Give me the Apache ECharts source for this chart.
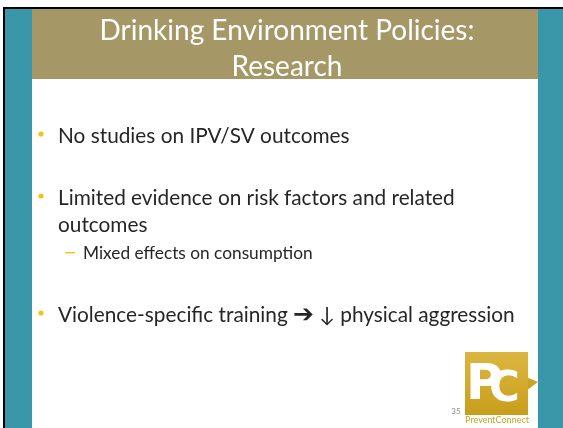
<!DOCTYPE html>
<html>
<head>
<meta charset="utf-8">
<script src="https://cdn.jsdelivr.net/npm/echarts@6/dist/echarts.min.js"></script>
<style>
  html, body { margin: 0; padding: 0; background: #fff; }
  #main { width: 563px; height: 428px; }
</style>
</head>
<body>
<div id="main"></div>
<script>
var titleLines = ['Drinking Environment Policies:', 'Research'];
var titleY = [31, 67];
var bulletLines = [
  { level: 1, text: 'No studies on IPV/SV outcomes', y: 136 },
  { level: 1, text: 'Limited evidence on risk factors and related', y: 198 },
  { level: 0, text: 'outcomes', y: 225 },
  { level: 2, text: 'Mixed effects on consumption', y: 253 },
  { level: 1, text: 'Violence-specific training {arw|\u2794} \u2193 physical aggression', y: 315 }
];
var slideNumber = '35';
var logoName = 'PreventConnect';

var chart = echarts.init(document.getElementById('main'));

var teal = '#3A97AA';
var header = '#A59766';
var accent = '#F2C314';
var bodyFont = 'Lato, "Open Sans", sans-serif';

var elements = [
  // frame
  { type: 'rect', shape: { x: 3, y: 7, width: 560, height: 421 }, style: { fill: '#000' } },
  { type: 'rect', shape: { x: 5, y: 9, width: 558, height: 419 }, style: { fill: '#fff' } },
  { type: 'rect', shape: { x: 5, y: 9, width: 27, height: 419 }, style: { fill: teal } },
  { type: 'rect', shape: { x: 538, y: 9, width: 25, height: 419 }, style: { fill: teal } },
  { type: 'rect', shape: { x: 32, y: 9, width: 506, height: 70 }, style: { fill: header } }
];

titleLines.forEach(function (t, i) {
  elements.push({
    type: 'text', x: 287, y: titleY[i],
    style: { text: t, fill: '#fff', font: '28px ' + bodyFont, align: 'center', verticalAlign: 'middle' }
  });
});

bulletLines.forEach(function (b) {
  if (b.level === 1) {
    elements.push({ type: 'circle', shape: { cx: 41, cy: b.y - 2, r: 2.6 }, style: { fill: accent } });
  }
  if (b.level === 2) {
    elements.push({ type: 'rect', shape: { x: 65, y: b.y - 1, width: 10, height: 1.4 }, style: { fill: accent } });
  }
  elements.push({
    type: 'text', x: b.level === 2 ? 83 : 58, y: b.y,
    style: {
      text: b.text, fill: '#262626',
      font: (b.level === 2 ? '17.3px ' : '20.8px ') + bodyFont,
      align: 'left', verticalAlign: 'middle',
      rich: { arw: { fontFamily: '"DejaVu Sans"', fontSize: 25, fill: '#262626' } }
    }
  });
});

// logo
elements.push(
  { type: 'polygon', shape: { points: [[526, 377], [538, 382], [526, 391]] }, style: { fill: '#CDA323' } },
  { type: 'rect', shape: { x: 465, y: 352, width: 63, height: 63 },
    style: { fill: new echarts.graphic.LinearGradient(0, 0, 0, 1, [
      { offset: 0, color: '#DBB641' }, { offset: 0.5, color: '#D3AB2D' }, { offset: 1, color: '#C79D1B' }]) } },
  { type: 'text', x: 466, y: 386, style: { text: 'P', fill: '#fff', font: 'bold 50px "DejaVu Sans", sans-serif', verticalAlign: 'middle' } },
  { type: 'text', x: 489, y: 390, style: { text: 'C', fill: '#fff', font: 'bold 42px "DejaVu Sans", sans-serif', verticalAlign: 'middle' } },
  { type: 'text', x: 497, y: 420, style: { text: logoName, fill: '#C9A227', font: '9px ' + bodyFont, align: 'center', verticalAlign: 'middle' } },
  { type: 'text', x: 456, y: 411, style: { text: slideNumber, fill: '#8a8a8a', font: '8px ' + bodyFont, align: 'center', verticalAlign: 'middle' } }
);

chart.setOption({
  animation: false,
  graphic: { elements: elements }
});
</script>
</body>
</html>
